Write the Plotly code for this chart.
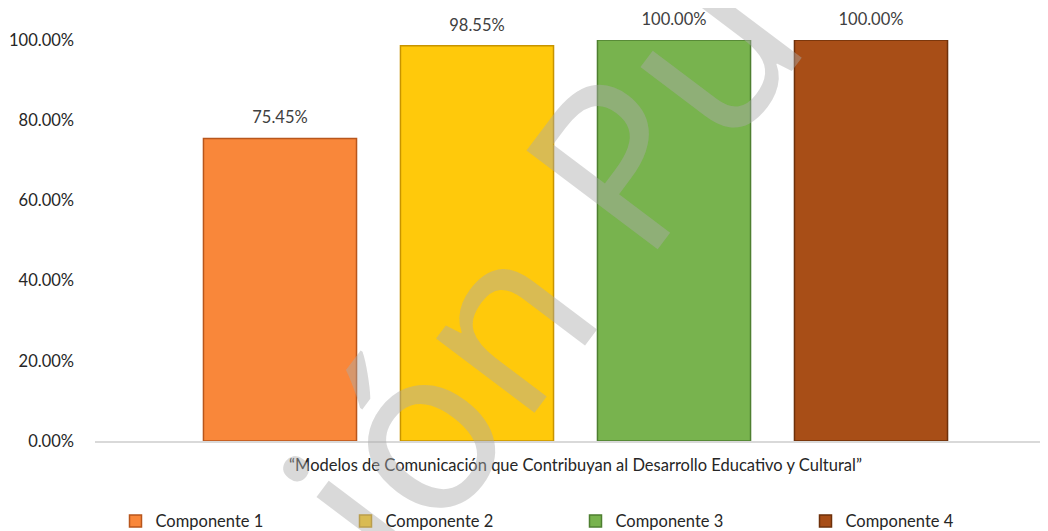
import plotly.graph_objects as go

category = ["“Modelos de Comunicación que Contribuyan al Desarrollo Educativo y Cultural”"]
series_names = ["Componente 1", "Componente 2", "Componente 3", "Componente 4"]
series_values = [[0.7545], [0.9855], [1.0], [1.0]]
colors = ["#F9873A", "#FFC90B", "#78B34E", "#A84E17"]
outline = ["#B8561C", "#C79400", "#4E7F30", "#6E300A"]

font_family = "Lato, Noto Sans, sans-serif"
txt_color = "#262626"

fig = go.Figure()
for i, (name, vals, c, oc) in enumerate(zip(series_names, series_values, colors, outline)):
    fig.add_trace(go.Bar(
        x=category, y=vals, name=name, offsetgroup=str(i),
        marker=dict(color=c, line=dict(color=oc, width=1.5)),
    ))
for i, (name, vals) in enumerate(zip(series_names, series_values)):
    fig.add_trace(go.Scatter(
        x=category, y=vals, name=name, offsetgroup=str(i), showlegend=False,
        mode="markers+text", marker=dict(size=16, opacity=0),
        text=[f"{v*100:.2f}%" for v in vals], textposition="top center",
        cliponaxis=False, hoverinfo="skip",
        textfont=dict(size=16.5, color="#404040", family=font_family),
    ))

fig.add_annotation(
    text="ión Pu", xref="paper", yref="paper", x=0.46, y=0.45,
    showarrow=False, textangle=-53,
    font=dict(size=230, color="rgba(170,170,170,0.45)", family="Noto Sans, sans-serif"),
)

fig.update_layout(
    width=1048, height=523,
    margin=dict(l=87, r=0, t=32, b=90, autoexpand=False),
    paper_bgcolor="white", plot_bgcolor="white",
    barmode="group", bargap=0.18, bargroupgap=0.223,
    scattermode="group", scattergap=0.18,
    showlegend=True,
    legend=dict(orientation="h", x=0.5, xanchor="center", y=-0.2, yanchor="middle",
                font=dict(size=16.5, color=txt_color, family=font_family),
                entrywidth=185, itemwidth=30, traceorder="normal"),
    font=dict(family=font_family, color=txt_color),
    xaxis=dict(showline=True, linecolor="#D9D9D9", linewidth=2, ticks="",
               ticklabelstandoff=8, automargin=False,
               tickfont=dict(size=16.5, color=txt_color)),
    yaxis=dict(range=[0, 1], dtick=0.2, tickformat=".2%", showgrid=False,
               zeroline=False, showline=False, ticks="", automargin=False,
               ticklabelstandoff=20,
               tickfont=dict(size=16.5, color=txt_color)),
)

fig.write_html("out.html")
